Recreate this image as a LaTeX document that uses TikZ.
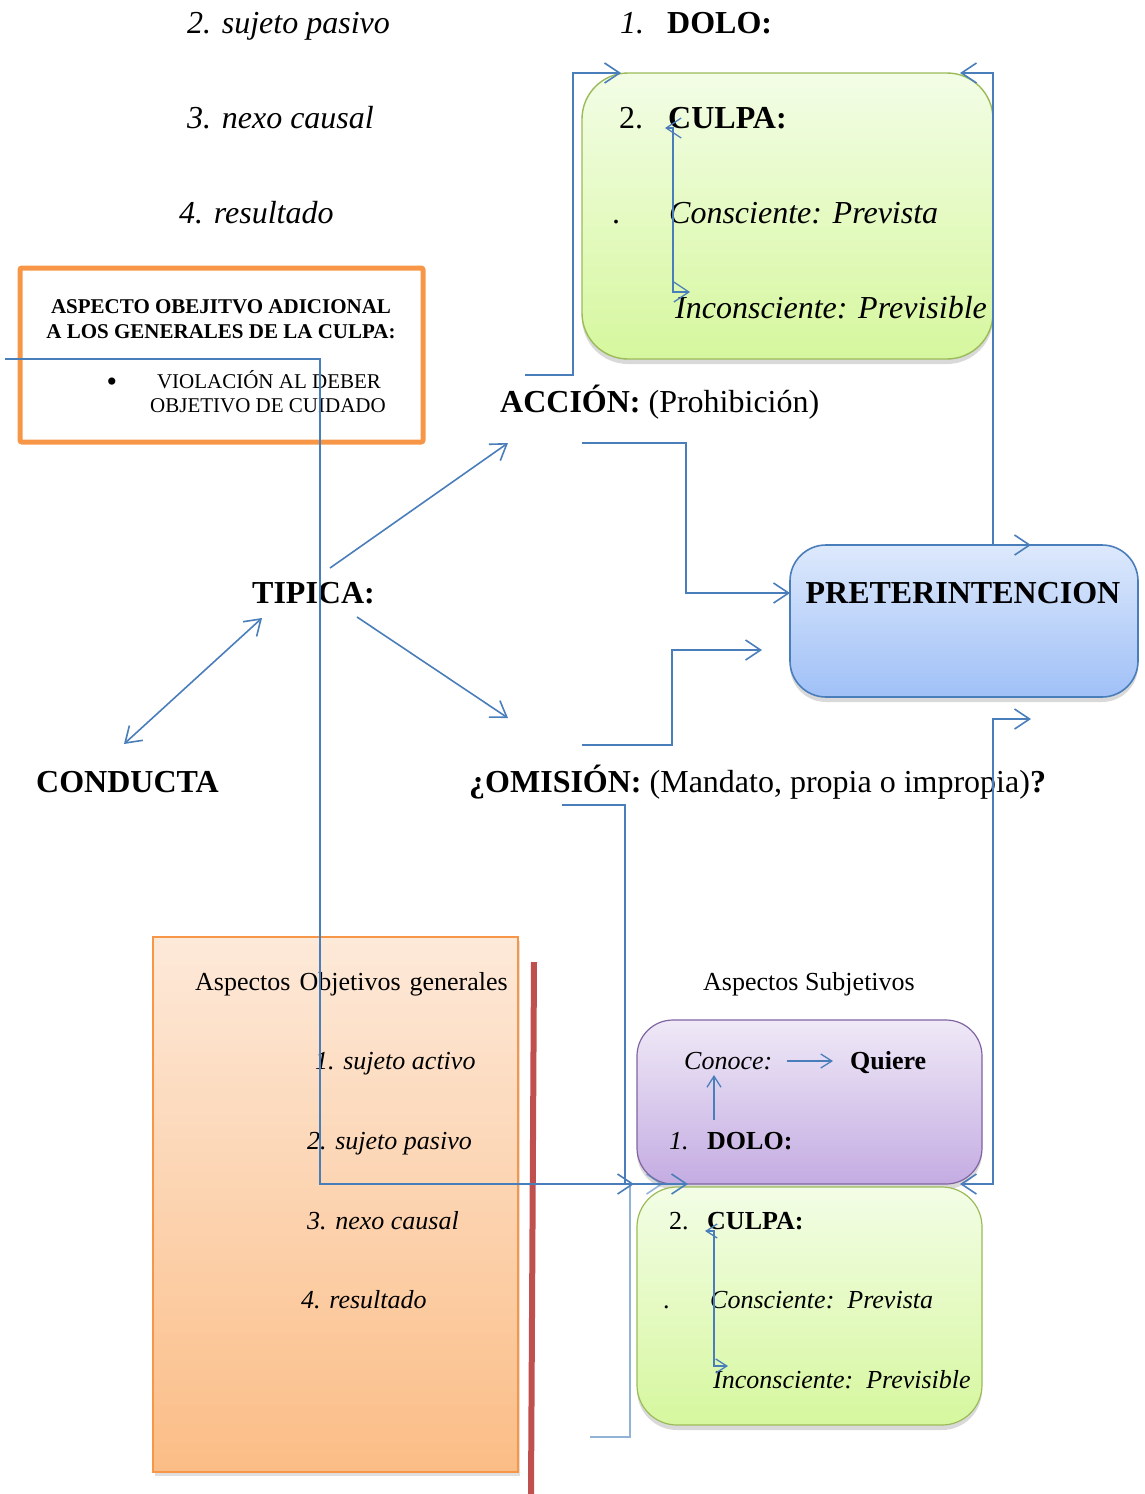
\documentclass[tikz,border=0pt]{standalone}
\usepackage{fontspec}
\setmainfont{Liberation Serif}
\usetikzlibrary{arrows.meta,shadows}

\definecolor{connblue}{HTML}{4A7EBB}
\definecolor{boxorange}{HTML}{F79646}
\definecolor{barred}{HTML}{C0504D}
\definecolor{greenedge}{HTML}{9BBB59}
\definecolor{greentop}{HTML}{F3FDE6}
\definecolor{greenbot}{HTML}{D6F79E}
\definecolor{bluetop}{HTML}{DDE9FC}
\definecolor{bluebot}{HTML}{A0C0F7}
\definecolor{violetedge}{HTML}{8064A2}
\definecolor{violettop}{HTML}{EFE9F7}
\definecolor{violetbot}{HTML}{C4ACE2}
\definecolor{peachtop}{HTML}{FDE9D9}
\definecolor{peachbot}{HTML}{FBBD86}

\tikzset{
  conn/.style={draw=connblue, line width=1.6pt},
  bigtip/.style={>={Straight Barb[length=15pt,width=20pt]}},
  smalltip/.style={>={Straight Barb[length=11pt,width=14pt]}},
  txt/.style={inner sep=0pt, anchor=base west, font=\fontsize{32}{36}\selectfont},
  stxt/.style={inner sep=0pt, anchor=base west, font=\fontsize{26}{30}\selectfont},
  ttxt/.style={inner sep=0pt, anchor=base, font=\fontsize{21}{24}\selectfont},
  shade box/.style={draw, rounded corners=#1, inner sep=0pt,
    drop shadow={opacity=.3, shadow xshift=0pt, shadow yshift=-5pt}},
}

\begin{document}
\begin{tikzpicture}[x=1pt, y=-1pt, bigtip]
	\useasboundingbox (0,0) rectangle (1144,1494);
	% boxes
	\node[shade box=46pt, draw=greenedge, line width=1.4pt, top color=greentop, bottom color=greenbot,
	  minimum width=411pt, minimum height=286pt] (culpaTop) at (787.5,216) {};
	\node[shade box=36pt, draw=connblue, line width=1.6pt, top color=bluetop, bottom color=bluebot,
	  minimum width=348pt, minimum height=152pt] (pretBox) at (964,621) {};
	\node[draw=boxorange, line width=5pt, rounded corners=2pt, minimum width=403pt, minimum height=174pt]
	  (adicBox) at (221.5,355) {};
	\node[draw=boxorange, line width=1.2pt, top color=peachtop, bottom color=peachbot,
	  drop shadow={opacity=.25, shadow xshift=2pt, shadow yshift=-4pt},
	  minimum width=365pt, minimum height=535pt] (genBox) at (335.5,1204.5) {};
	\node[shade box=36pt, draw=violetedge, line width=1.2pt, top color=violettop, bottom color=violetbot,
	  minimum width=345pt, minimum height=164pt] (doloBox) at (809.5,1102) {};
	\node[shade box=40pt, draw=greenedge, line width=1.2pt, top color=greentop, bottom color=greenbot,
	  minimum width=345pt, minimum height=238pt] (culpaBot) at (809.5,1306) {};
	% red bar beside the general aspects
	\draw[barred, line width=6pt] (534,962) -- (531,1494);

	% list at the top left
	\node[txt] (sujPas) at (187,33) {\itshape 2. sujeto pasivo};
	\node[txt] (nexo) at (187,128) {\itshape 3. nexo causal};
	\node[txt] (result) at (179,223) {\itshape 4. resultado};
	% dolo and culpa, top
	\node[txt] (doloTop) at (620,33) {\makebox[47pt][l]{\itshape 1.}\textbf{DOLO:}};
	\node[txt] (culpaTxt) at (619,128) {\makebox[49pt][l]{2.}\textbf{CULPA:}};
	\node[txt] (dotTop) at (612,223) {.};
	\node[txt] (conscTop) at (669,223) {\itshape Consciente: Prevista};
	\node[txt] (inconTop) at (675,318) {\itshape Inconsciente: Previsible};
	% additional objective aspect
	\node[ttxt] (adic1) at (221,313) {\bfseries ASPECTO OBEJITVO ADICIONAL};
	\node[ttxt] (adic2) at (221,338) {\bfseries A LOS GENERALES DE LA CULPA:};
	\node[ttxt, font=\fontsize{30}{30}\selectfont] (bullet) at (112,391) {\textbullet};
	\node[ttxt] (viol1) at (269,388) {VIOLACIÓN AL DEBER};
	\node[ttxt] (viol2) at (268,412) {OBJETIVO DE CUIDADO};
	% main terms
	\node[txt] (accion) at (500,412) {\textbf{ACCIÓN:} (Prohibición)};
	\node[txt] (tipica) at (252,603) {\bfseries TIPICA:};
	\node[txt, anchor=base] (pret) at (963,603) {\bfseries PRETERINTENCION};
	\node[txt] (conducta) at (36,792) {\bfseries CONDUCTA};
	\node[txt] (omision) at (469,792) {\textbf{¿OMISIÓN:} (Mandato, propia o impropia)\textbf{?}};
	% general aspects, bottom left
	\node[stxt] (genTit) at (195,990) {Aspectos\hspace{9pt}Objetivos\hspace{9pt}generales};
	\node[stxt] (gen1) at (315,1069) {\itshape 1. sujeto activo};
	\node[stxt] (gen2) at (307,1149) {\itshape 2. sujeto pasivo};
	\node[stxt] (gen3) at (307,1229) {\itshape 3. nexo causal};
	\node[stxt] (gen4) at (301,1308) {\itshape 4. resultado};
	% subjective aspects, bottom right
	\node[stxt] (subTit) at (703,990) {Aspectos Subjetivos};
	\node[stxt] (conoce) at (684,1069) {\itshape Conoce:};
	\node[stxt] (quiere) at (850,1069) {\bfseries Quiere};
	\node[stxt] (doloBot) at (669,1149) {\makebox[38pt][l]{\itshape 1.}\textbf{DOLO:}};
	\node[stxt] (culpaBotTxt) at (669,1229) {\makebox[38pt][l]{2.}\textbf{CULPA:}};
	\node[stxt] (dotBot) at (663,1308) {.};
	\node[stxt] (conscBot) at (710,1308) {\itshape Consciente:\ \ Prevista};
	\node[stxt] (inconBot) at (713,1388) {\itshape Inconsciente:\ \ Previsible};

	% free ends of the connectors
	\coordinate (accUp) at (525,375);
	\coordinate (culpaIn) at (621,73);
	\coordinate (accRight) at (582,443);
	\coordinate (pretIn) at (790,593);
	\coordinate (omiUp) at (582,745);
	\coordinate (pretNear) at (762,650);
	\coordinate (culpaOut) at (960,73);
	\coordinate (pretTop) at (1031,545);
	\coordinate (doloOut) at (960,1184);
	\coordinate (pretBot) at (1031,719);
	\coordinate (farLeft) at (5,359);
	\coordinate (doloInA) at (634,1184);
	\coordinate (omiDown) at (562,805);
	\coordinate (doloInB) at (688,1184);
	\coordinate (lowLeft) at (590,1437);
	\coordinate (doloInC) at (663,1184);
	\coordinate (tipUp) at (330,568);
	\coordinate (accTip) at (508,443);
	\coordinate (tipDown) at (357,617);
	\coordinate (omiTip) at (508,718);
	\coordinate (tipLeft) at (262,618);
	\coordinate (condTip) at (124,744);

	% elbow connectors
	\draw[conn, ->] (accUp) -- ++(48,0) |- (culpaIn);
	\draw[conn, ->] (accRight) -| ++(104,150) -- (pretIn);
	\draw[conn, ->] (omiUp) -| ++(90,-95) -- (pretNear);
	\draw[conn, <->] (culpaOut) -| ++(33,472) -- (pretTop);
	\draw[conn, <->] (doloOut) -| ++(33,-465) -- (pretBot);
	\draw[conn, ->] (farLeft) -| ++(315,825) -- (doloInA);
	\draw[conn, ->] (omiDown) -| ++(63,379) -- (doloInB);
	\draw[conn, ->, opacity=.6] (lowLeft) -| ++(40,-253) -- (doloInC);
	% straight arrows round TIPICA
	\draw[conn, ->] (tipUp) -- (accTip);
	\draw[conn, ->] (tipDown) -- (omiTip);
	\draw[conn, <->] (tipLeft) -- (condTip);

	% arrows inside the boxes
	\draw[conn, line width=1.3pt, <->] (665,128) -- (673,128) -- (673,292) -- (690,292);
	\draw[conn, line width=1.3pt, smalltip, ->] (787,1061) -- (833,1061);
	\draw[conn, line width=1.3pt, smalltip, ->] (714,1120) -- (714,1075);
	\draw[conn, line width=1.3pt, smalltip, <->] (705,1231) -- (714,1231) -- (714,1366) -- (728,1366);
\end{tikzpicture}
\end{document}
